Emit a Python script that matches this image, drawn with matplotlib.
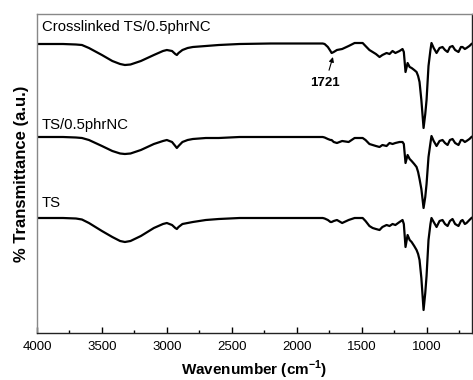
import matplotlib
matplotlib.use("Agg")
import matplotlib.pyplot as plt
from matplotlib.ticker import MultipleLocator

plt.rcParams['font.family'] = ['Liberation Sans', 'DejaVu Sans']
plt.rcParams['mathtext.fontset'] = 'custom'
plt.rcParams['mathtext.rm'] = 'Liberation Sans'
plt.rcParams['mathtext.bf'] = 'Liberation Sans:bold'

wavenumber = [4000, 3800, 3700, 3654, 3600, 3500, 3420, 3360, 3323, 3280, 3200, 3100, 3030, 3000,
              2960, 2935, 2923, 2910, 2880, 2840, 2800, 2700, 2600, 2440, 2200, 2000, 1800, 1785,
              1760, 1740, 1731, 1715, 1690, 1650, 1600, 1554, 1492, 1470, 1440, 1415, 1390, 1362,
              1340, 1308, 1285, 1262, 1240, 1208, 1185, 1175, 1162, 1146, 1130, 1115, 1095, 1077,
              1065, 1054, 1040, 1023, 1010, 1000, 985, 970, 962, 945, 923, 900, 877, 858, 838,
              820, 800, 780, 754, 735, 723, 705, 692, 670, 654]

t_crosslinked = [0, 0, -0.5, -1, -4, -11, -17, -20, -21, -20.5, -17, -11, -7, -6,
                 -7, -10, -11, -9, -6, -4, -3, -2, -1, 0, 0.5, 0.5, 0.5, 0,
                 -3, -7, -9, -8, -6, -5, -2, 1, 1, -2, -6, -8, -10, -13,
                 -11, -9, -10, -7, -9, -7, -5, -8, -28, -19, -23, -24, -26, -28,
                 -32, -38, -56, -84, -70, -56, -22, -6, 1, -4, -9, -4, -3, -6, -8,
                 -3, -2, -6, -8, -3, -3, -5, -4, -2, 0]

t_ts_nc = [0, 0, -0.5, -1, -3, -9, -14, -16.5, -17, -16.5, -13, -7, -4, -3,
           -5, -9, -11, -9, -5, -3, -2, -1, -1, 0, 0, 0, 0, -0.5,
           -2, -3, -3, -5, -6, -4, -5, -1, -1, -3, -7, -8, -9, -10,
           -8, -9, -6, -7, -6, -5, -5, -7, -26, -18, -22, -24, -27, -30,
           -35, -42, -52, -71, -60, -47, -20, -6, 1, -4, -9, -4, -3, -6, -8,
           -3, -2, -6, -8, -3, -3, -5, -4, -2, 0]

t_ts = [0, 0, -0.5, -1.5, -5, -13, -19, -23, -24, -23, -18, -10, -6, -5,
        -7, -10, -11, -9, -6, -5, -4, -2, -1, 0, 0, 0, 0, -0.5,
        -2, -4, -4, -3, -2, -5, -2, 0, 0, -3, -8, -10, -11, -12,
        -9, -7, -8, -6, -7, -4, -2, -6, -29, -17, -22, -24, -28, -32,
        -36, -42, -60, -92, -75, -58, -22, -6, 0, -4, -9, -3, -2, -6, -8,
        -3, -1, -6, -8, -3, -2, -6, -5, -2, 0]

series_labels = ['Crosslinked TS/0.5phrNC', 'TS/0.5phrNC', 'TS']
series_values = [t_crosslinked, t_ts_nc, t_ts]
series_offsets = [289, 196, 115]
label_y = [306, 208, 130]

x_ticks = [4000, 3500, 3000, 2500, 2000, 1500, 1000]
x_tick_labels = ['4000', '3500', '3000', '2500', '2000', '1500', '1000']

annot_text = '1721'
annot_peak = (1721, 276)
annot_pos = (1780, 250)

fig = plt.figure(figsize=(4.73, 3.8), dpi=100)
ax = fig.add_axes([37 / 473, 47 / 380, 435 / 473, 319 / 380])

for lab, vals, off, ly in zip(series_labels, series_values, series_offsets, label_y):
    ax.plot(wavenumber, [v + off for v in vals], color='black', lw=1.6, solid_joinstyle='round')
    ax.text(3965, ly, lab, fontsize=10.7, va='center', ha='left', color='black')

ax.annotate(annot_text, xy=annot_peak, xytext=annot_pos, fontsize=9.5, fontweight='bold',
            ha='center', va='center',
            arrowprops=dict(arrowstyle='-|>', color='black', lw=0.8, mutation_scale=7,
                            shrinkA=3, shrinkB=0))

ax.set_xlim(4000, 650)
ax.set_ylim(0, 319)
ax.set_xticks(x_ticks)
ax.set_xticklabels(x_tick_labels)
ax.xaxis.set_minor_locator(MultipleLocator(250))
ax.tick_params(axis='x', which='major', direction='in', length=4, width=1, labelsize=9.5, pad=6)
ax.tick_params(axis='x', which='minor', direction='in', length=2.5, width=1)
ax.set_yticks([])

for side in ['top', 'left']:
    ax.spines[side].set_color('#888888')
for side in ['bottom', 'right']:
    ax.spines[side].set_color('#222222')
for sp in ax.spines.values():
    sp.set_linewidth(1)

ax.set_xlabel(r'Wavenumber (cm$^{\mathbf{-1}}$)', fontsize=11, fontweight='bold', labelpad=4)
ax.set_ylabel('% Transmittance (a.u.)', fontsize=12, fontweight='bold', labelpad=6)

fig.savefig('out.png', dpi=100)
